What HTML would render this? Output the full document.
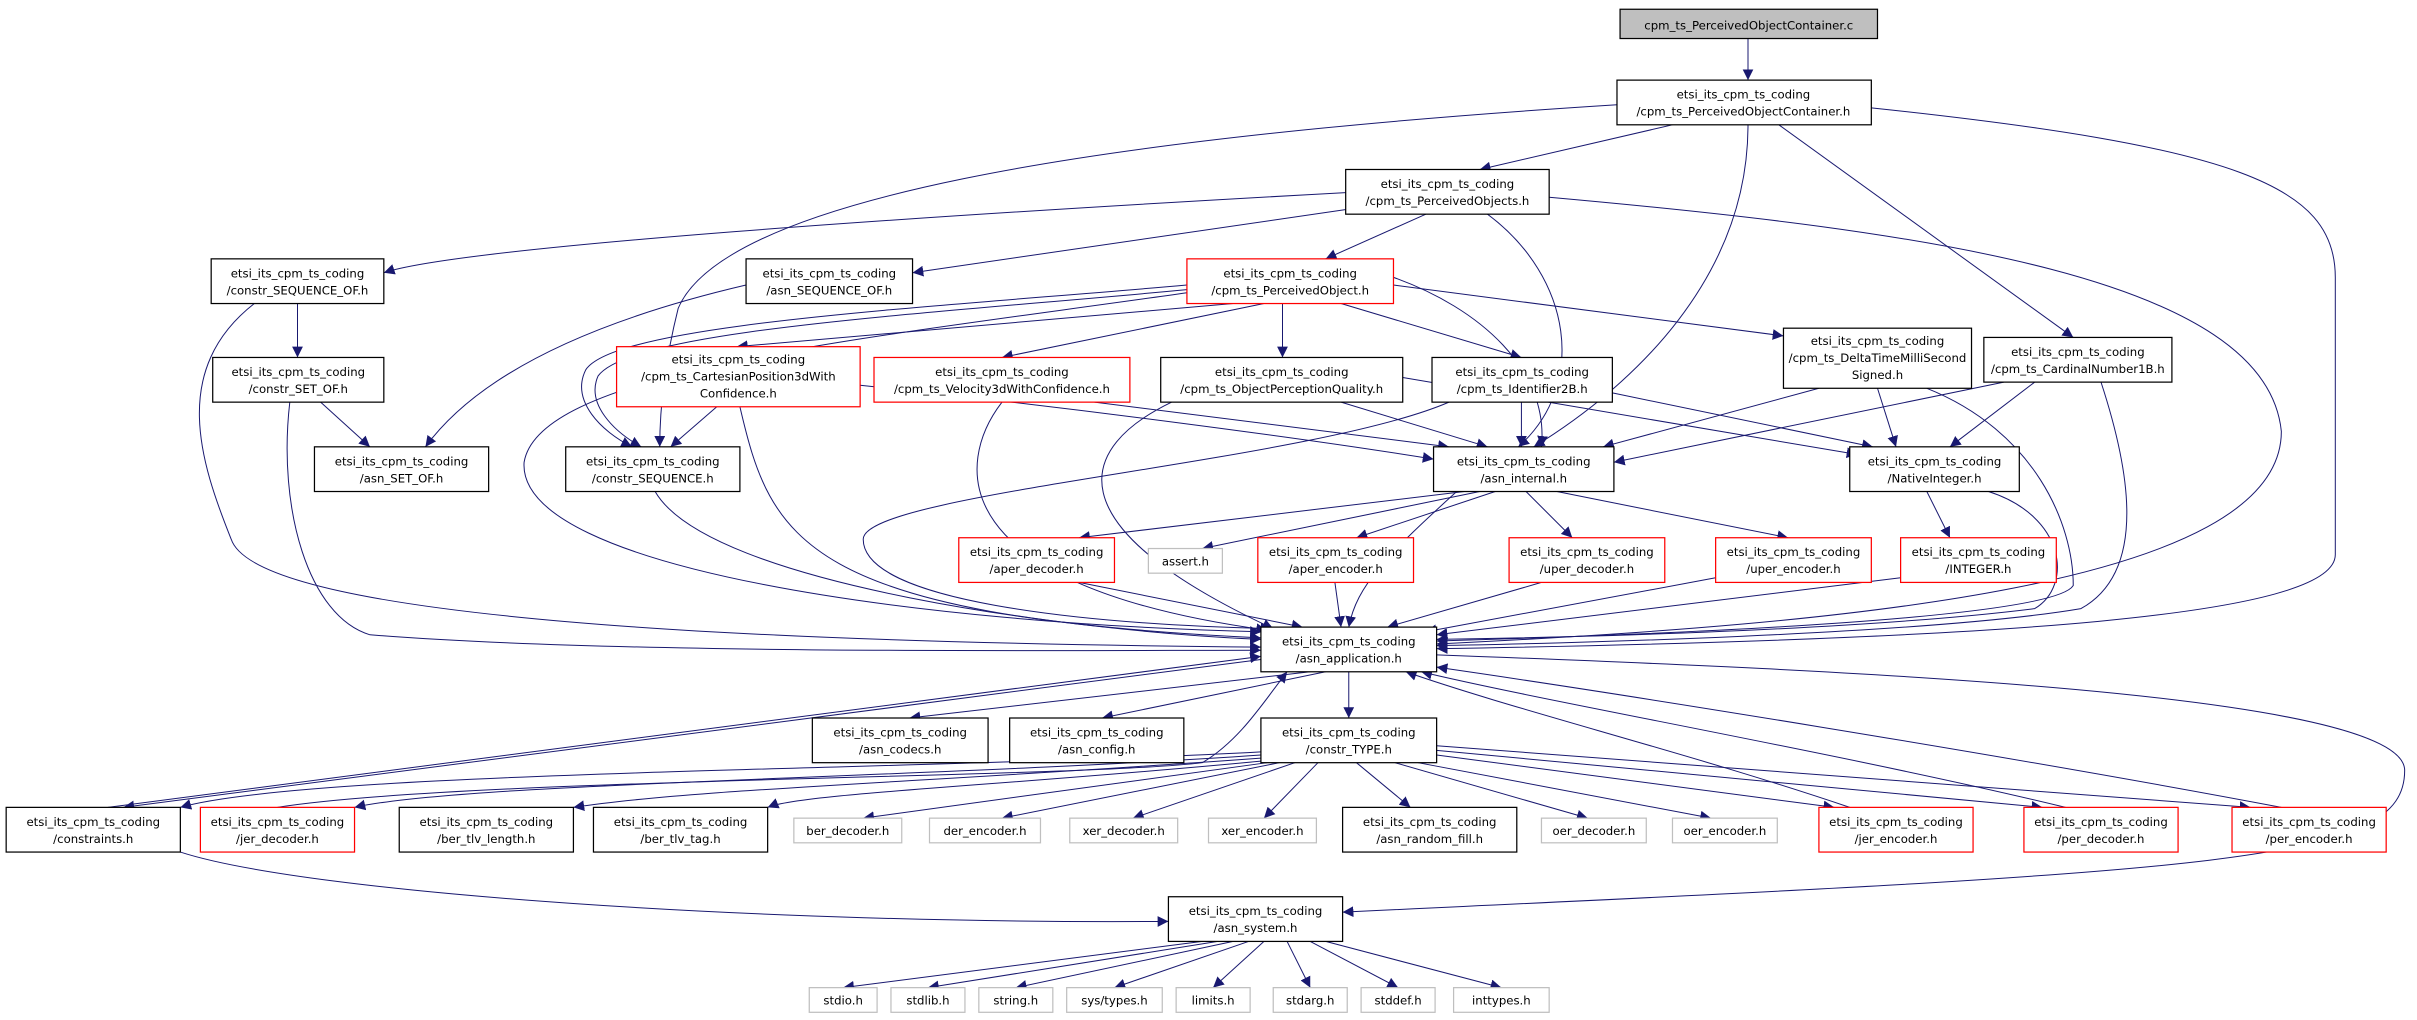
<!DOCTYPE html>
<html><head><meta charset="utf-8"><style>
html,body{margin:0;padding:0;background:#fff;}
svg{display:block}
text{font-family:"DejaVu Sans","Liberation Sans",sans-serif;font-size:7.6px;fill:#000;text-anchor:middle}
.b{fill:#fff;stroke:#000;stroke-width:0.8}
.r{fill:#fff;stroke:#ff0000;stroke-width:0.8}
.g{fill:#fff;stroke:#bfbfbf;stroke-width:0.8}
.e{fill:none;stroke:#191970;stroke-width:0.65}
</style></head><body>
<svg width="2417" height="1020" viewBox="0 0 1568 662" preserveAspectRatio="none" xmlns="http://www.w3.org/2000/svg">
<defs><marker id="a" viewBox="0 0 10 10" refX="10" refY="5" markerWidth="7" markerHeight="7" markerUnits="userSpaceOnUse" orient="auto"><path d="M0,0 L10,5 L0,10 z" fill="#191970"/></marker></defs>
<g class="e" marker-end="url(#a)">
<path d="M1134,25 L1134,52"/>
<path d="M1049,68 C700,90 470,130 440,200 C430,240 428,270 428,290"/>
<path d="M1085,81 L960,110"/>
<path d="M1134,81 C1134,180 1060,250 995,290"/>
<path d="M1154,81 L1345,219"/>
<path d="M1214,70 C1450,95 1515,120 1515,180 L1515,360 C1515,400 1300,415 932,421"/>
<path d="M873,125 C600,140 300,160 249,177"/>
<path d="M880,135 L592,177"/>
<path d="M925,139 L860,168"/>
<path d="M965,139 C1020,180 1030,250 985,290"/>
<path d="M1005,128 C1250,150 1470,180 1480,280 C1480,380 1200,405 932,418"/>
<path d="M193,197 L193,232"/>
<path d="M165,197 C110,240 130,300 150,350 C170,410 600,418 818,420"/>
<path d="M208,261 L240,290"/>
<path d="M188,261 C180,330 200,400 240,412 C400,425 700,422 818,422"/>
<path d="M484,185 C420,200 320,230 276,290"/>
<path d="M770,185 C600,200 400,210 380,240 C370,260 390,280 410,290"/>
<path d="M770,188 C600,204 410,214 388,244 C380,262 398,280 416,290"/>
<path d="M770,190 C560,220 350,240 340,300 C335,370 600,405 818,410"/>
<path d="M800,197 L478,225"/>
<path d="M820,197 L650,232"/>
<path d="M832,197 L832,232"/>
<path d="M870,197 L987,232"/>
<path d="M904,185 L1157,218"/>
<path d="M904,180 C960,200 1005,240 1000,290"/>
<path d="M465,264 L435,290"/>
<path d="M558,250 C700,265 850,285 930,298"/>
<path d="M480,264 C500,350 520,400 818,414"/>
<path d="M710,261 L940,290"/>
<path d="M650,261 C620,300 610,380 822,409"/>
<path d="M870,261 L965,290"/>
<path d="M910,245 L1205,295"/>
<path d="M760,261 C700,290 680,340 826,408"/>
<path d="M987,261 L987,290"/>
<path d="M1046,255 L1215,290"/>
<path d="M940,261 C850,300 560,320 560,350 C560,390 700,405 825,408"/>
<path d="M1180,252 L1040,290"/>
<path d="M1218,252 L1230,290"/>
<path d="M1250,252 C1320,280 1345,340 1345,380 C1330,405 1000,414 932,416"/>
<path d="M1300,248 L1047,300"/>
<path d="M1320,248 L1265,290"/>
<path d="M1363,248 C1380,300 1395,370 1350,395 C1250,412 1000,418 932,419"/>
<path d="M425,319 C460,380 700,410 818,415"/>
<path d="M950,319 L700,349"/>
<path d="M960,319 L780,356"/>
<path d="M970,319 L880,349"/>
<path d="M990,319 L1020,349"/>
<path d="M1010,319 L1160,349"/>
<path d="M945,319 C900,360 880,380 875,407"/>
<path d="M1250,319 L1265,349"/>
<path d="M1290,319 C1340,335 1345,380 1320,395 C1200,410 1000,414 932,415"/>
<path d="M700,378 L845,407"/>
<path d="M866,378 L870,407"/>
<path d="M1000,378 L900,407"/>
<path d="M1113,375 L925,410"/>
<path d="M1233,375 L932,412"/>
<path d="M850,436 L590,466"/>
<path d="M860,436 L715,466"/>
<path d="M875,436 L875,466"/>
<path d="M932,425 C1200,435 1560,450 1560,500 C1560,560 1450,565 871,592"/>
<path d="M818,428 L80,524"/>
<path d="M70,524 L818,426"/>
<path d="M117,553 C200,580 500,600 758,598"/>
<path d="M818,488 C600,500 200,500 117,524"/>
<path d="M818,490 C600,505 300,508 230,524"/>
<path d="M818,492 C600,508 450,512 372,524"/>
<path d="M818,494 C650,510 520,515 498,524"/>
<path d="M822,495 L560,531"/>
<path d="M830,495 L650,531"/>
<path d="M840,495 L735,531"/>
<path d="M855,495 L820,531"/>
<path d="M880,495 L915,524"/>
<path d="M905,495 L1030,531"/>
<path d="M920,495 L1110,531"/>
<path d="M932,490 L1190,524"/>
<path d="M932,487 L1325,524"/>
<path d="M932,484 L1460,524"/>
<path d="M180,524 C300,505 700,505 780,495 C805,480 820,455 835,436"/>
<path d="M1200,524 C1100,490 980,460 912,436"/>
<path d="M1340,524 C1200,490 1000,455 922,436"/>
<path d="M1480,524 C1300,490 1050,450 932,433"/>
<path d="M780,611 L547,641"/>
<path d="M790,611 L602,641"/>
<path d="M800,611 L659,641"/>
<path d="M810,611 L723,641"/>
<path d="M820,611 L787,641"/>
<path d="M835,611 L850,641"/>
<path d="M850,611 L907,641"/>
<path d="M860,611 L974,641"/>
</g>
<rect x="1051" y="6" width="167" height="19" fill="#bfbfbf" stroke="#000" stroke-width="0.8"/><text x="1134.5" y="19">cpm_ts_PerceivedObjectContainer.c</text>
<rect class="b" x="1049" y="52" width="165" height="29"/><text x="1131" y="64">etsi_its_cpm_ts_coding</text><text x="1131" y="75">/cpm_ts_PerceivedObjectContainer.h</text>
<rect class="b" x="873" y="110" width="132" height="29"/><text x="939" y="122">etsi_its_cpm_ts_coding</text><text x="939" y="133">/cpm_ts_PerceivedObjects.h</text>
<rect class="b" x="137" y="168" width="112" height="29"/><text x="193" y="180">etsi_its_cpm_ts_coding</text><text x="193" y="191">/constr_SEQUENCE_OF.h</text>
<rect class="b" x="484" y="168" width="108" height="29"/><text x="538" y="180">etsi_its_cpm_ts_coding</text><text x="538" y="191">/asn_SEQUENCE_OF.h</text>
<rect class="r" x="770" y="168" width="134" height="29"/><text x="837" y="180">etsi_its_cpm_ts_coding</text><text x="837" y="191">/cpm_ts_PerceivedObject.h</text>
<rect class="b" x="1157" y="213" width="122" height="39"/><text x="1218" y="224">etsi_its_cpm_ts_coding</text><text x="1218" y="235">/cpm_ts_DeltaTimeMilliSecond</text><text x="1218" y="246">Signed.h</text>
<rect class="b" x="1287" y="219" width="122" height="29"/><text x="1348" y="231">etsi_its_cpm_ts_coding</text><text x="1348" y="242">/cpm_ts_CardinalNumber1B.h</text>
<rect class="b" x="138" y="232" width="111" height="29"/><text x="193.5" y="244">etsi_its_cpm_ts_coding</text><text x="193.5" y="255">/constr_SET_OF.h</text>
<rect class="r" x="400" y="225" width="158" height="39"/><text x="479" y="236">etsi_its_cpm_ts_coding</text><text x="479" y="247">/cpm_ts_CartesianPosition3dWith</text><text x="479" y="258">Confidence.h</text>
<rect class="r" x="567" y="232" width="166" height="29"/><text x="650" y="244">etsi_its_cpm_ts_coding</text><text x="650" y="255">/cpm_ts_Velocity3dWithConfidence.h</text>
<rect class="b" x="753" y="232" width="157" height="29"/><text x="831.5" y="244">etsi_its_cpm_ts_coding</text><text x="831.5" y="255">/cpm_ts_ObjectPerceptionQuality.h</text>
<rect class="b" x="929" y="232" width="117" height="29"/><text x="987.5" y="244">etsi_its_cpm_ts_coding</text><text x="987.5" y="255">/cpm_ts_Identifier2B.h</text>
<rect class="b" x="204" y="290" width="113" height="29"/><text x="260.5" y="302">etsi_its_cpm_ts_coding</text><text x="260.5" y="313">/asn_SET_OF.h</text>
<rect class="b" x="367" y="290" width="113" height="29"/><text x="423.5" y="302">etsi_its_cpm_ts_coding</text><text x="423.5" y="313">/constr_SEQUENCE.h</text>
<rect class="b" x="930" y="290" width="117" height="29"/><text x="988.5" y="302">etsi_its_cpm_ts_coding</text><text x="988.5" y="313">/asn_internal.h</text>
<rect class="b" x="1200" y="290" width="110" height="29"/><text x="1255" y="302">etsi_its_cpm_ts_coding</text><text x="1255" y="313">/NativeInteger.h</text>
<rect class="r" x="622" y="349" width="101" height="29"/><text x="672.5" y="361">etsi_its_cpm_ts_coding</text><text x="672.5" y="372">/aper_decoder.h</text>
<rect class="g" x="745" y="356" width="48" height="16"/><text x="769" y="367">assert.h</text>
<rect class="r" x="816" y="349" width="101" height="29"/><text x="866.5" y="361">etsi_its_cpm_ts_coding</text><text x="866.5" y="372">/aper_encoder.h</text>
<rect class="r" x="979" y="349" width="101" height="29"/><text x="1029.5" y="361">etsi_its_cpm_ts_coding</text><text x="1029.5" y="372">/uper_decoder.h</text>
<rect class="r" x="1113" y="349" width="101" height="29"/><text x="1163.5" y="361">etsi_its_cpm_ts_coding</text><text x="1163.5" y="372">/uper_encoder.h</text>
<rect class="r" x="1233" y="349" width="101" height="29"/><text x="1283.5" y="361">etsi_its_cpm_ts_coding</text><text x="1283.5" y="372">/INTEGER.h</text>
<rect class="b" x="818" y="407" width="114" height="29"/><text x="875" y="419">etsi_its_cpm_ts_coding</text><text x="875" y="430">/asn_application.h</text>
<rect class="b" x="527" y="466" width="114" height="29"/><text x="584" y="478">etsi_its_cpm_ts_coding</text><text x="584" y="489">/asn_codecs.h</text>
<rect class="b" x="655" y="466" width="113" height="29"/><text x="711.5" y="478">etsi_its_cpm_ts_coding</text><text x="711.5" y="489">/asn_config.h</text>
<rect class="b" x="818" y="466" width="114" height="29"/><text x="875" y="478">etsi_its_cpm_ts_coding</text><text x="875" y="489">/constr_TYPE.h</text>
<rect class="b" x="4" y="524" width="113" height="29"/><text x="60.5" y="536">etsi_its_cpm_ts_coding</text><text x="60.5" y="547">/constraints.h</text>
<rect class="r" x="130" y="524" width="100" height="29"/><text x="180" y="536">etsi_its_cpm_ts_coding</text><text x="180" y="547">/jer_decoder.h</text>
<rect class="b" x="259" y="524" width="113" height="29"/><text x="315.5" y="536">etsi_its_cpm_ts_coding</text><text x="315.5" y="547">/ber_tlv_length.h</text>
<rect class="b" x="385" y="524" width="113" height="29"/><text x="441.5" y="536">etsi_its_cpm_ts_coding</text><text x="441.5" y="547">/ber_tlv_tag.h</text>
<rect class="g" x="515" y="531" width="70" height="16"/><text x="550" y="542">ber_decoder.h</text>
<rect class="g" x="603" y="531" width="72" height="16"/><text x="639" y="542">der_encoder.h</text>
<rect class="g" x="694" y="531" width="70" height="16"/><text x="729" y="542">xer_decoder.h</text>
<rect class="g" x="784" y="531" width="70" height="16"/><text x="819" y="542">xer_encoder.h</text>
<rect class="b" x="871" y="524" width="113" height="29"/><text x="927.5" y="536">etsi_its_cpm_ts_coding</text><text x="927.5" y="547">/asn_random_fill.h</text>
<rect class="g" x="1000" y="531" width="68" height="16"/><text x="1034" y="542">oer_decoder.h</text>
<rect class="g" x="1085" y="531" width="68" height="16"/><text x="1119" y="542">oer_encoder.h</text>
<rect class="r" x="1180" y="524" width="100" height="29"/><text x="1230" y="536">etsi_its_cpm_ts_coding</text><text x="1230" y="547">/jer_encoder.h</text>
<rect class="r" x="1313" y="524" width="100" height="29"/><text x="1363" y="536">etsi_its_cpm_ts_coding</text><text x="1363" y="547">/per_decoder.h</text>
<rect class="r" x="1448" y="524" width="100" height="29"/><text x="1498" y="536">etsi_its_cpm_ts_coding</text><text x="1498" y="547">/per_encoder.h</text>
<rect class="b" x="758" y="582" width="113" height="29"/><text x="814.5" y="594">etsi_its_cpm_ts_coding</text><text x="814.5" y="605">/asn_system.h</text>
<rect class="g" x="525" y="641" width="44" height="16"/><text x="547" y="652">stdio.h</text>
<rect class="g" x="578" y="641" width="48" height="16"/><text x="602" y="652">stdlib.h</text>
<rect class="g" x="635" y="641" width="48" height="16"/><text x="659" y="652">string.h</text>
<rect class="g" x="692" y="641" width="62" height="16"/><text x="723" y="652">sys/types.h</text>
<rect class="g" x="763" y="641" width="48" height="16"/><text x="787" y="652">limits.h</text>
<rect class="g" x="826" y="641" width="48" height="16"/><text x="850" y="652">stdarg.h</text>
<rect class="g" x="883" y="641" width="48" height="16"/><text x="907" y="652">stddef.h</text>
<rect class="g" x="943" y="641" width="62" height="16"/><text x="974" y="652">inttypes.h</text>
</svg>
</body></html>
